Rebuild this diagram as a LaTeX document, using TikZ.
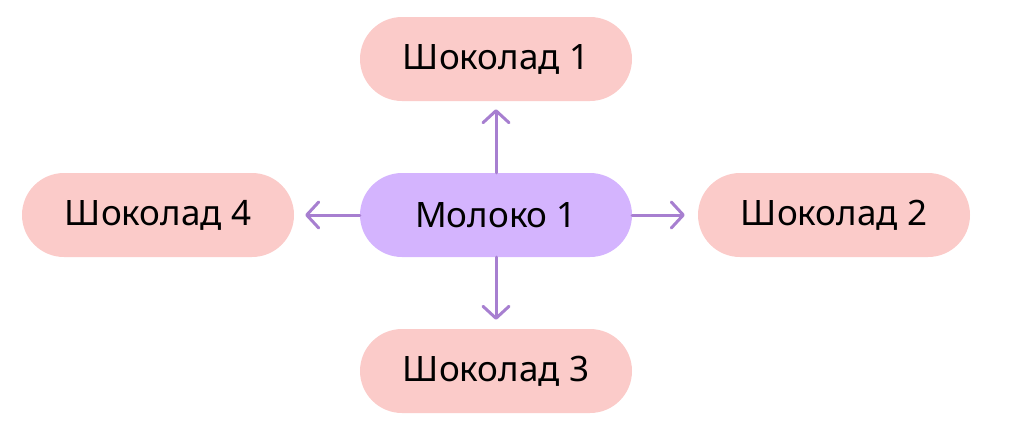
\documentclass[tikz,border=0pt]{standalone}
\usepackage{fontspec}
\setmainfont{Noto Sans}
\usetikzlibrary{arrows.meta}
\definecolor{pinkfill}{HTML}{FBCBC9}
\definecolor{purplefill}{HTML}{D4B4FE}
\definecolor{arrowcol}{HTML}{A77FD0}
\tikzset{
  pill/.style={rectangle, rounded corners=42pt, minimum width=272pt, minimum height=84pt, inner sep=0pt, font=\fontsize{35}{40}\selectfont, text=black},
  choc/.style={pill, fill=pinkfill},
  milk/.style={pill, fill=purplefill},
  conn/.style={draw=arrowcol, line width=3pt, line cap=round, -{Straight Barb[length=12pt, width=26pt, line width=3pt, round]}},
}
\begin{document}
\begin{tikzpicture}[x=1pt, y=-1pt]
\useasboundingbox (0,0) rectangle (1024,437);
\node[milk] (m) at (496,215) {Молоко 1};
\node[choc] (c1) at (496,59) {Шоколад 1};
\node[choc] (c2) at (834,215) {Шоколад 2};
\node[choc] (c3) at (496,371) {Шоколад 3};
\node[choc] (c4) at (158,215) {Шоколад 4};
\draw[conn] (m.north) -- ([yshift=-8pt]c1.south);
\draw[conn] (m.south) -- ([yshift=9pt]c3.north);
\draw[conn] (m.west) -- ([xshift=11pt]c4.east);
\draw[conn] (m.east) -- ([xshift=-13pt]c2.west);
\end{tikzpicture}
\end{document}
